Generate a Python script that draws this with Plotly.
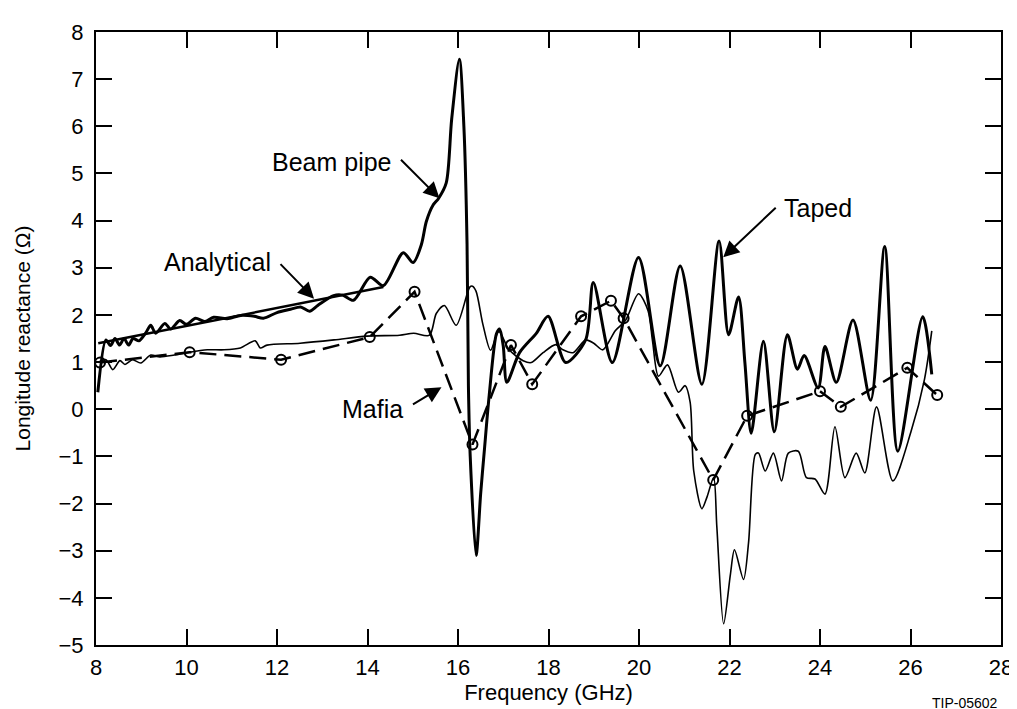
import plotly.graph_objects as go

# ---- data ----
thick_x = [8.04, 8.22, 8.32, 8.42, 8.52, 8.62, 8.72, 8.82, 8.95, 9.1, 9.21, 9.32, 9.52, 9.65, 9.85,
           10.0, 10.2, 10.4, 10.6, 10.9, 11.2, 11.5, 11.7, 12.0, 12.3, 12.52, 12.72, 12.9, 13.25,
           13.45, 13.69, 14.06, 14.35, 14.79, 15.01, 15.19, 15.3, 15.45, 15.57, 15.74, 15.86, 16.03,
           16.13, 16.2, 16.23, 16.27, 16.40, 16.5, 16.58, 16.69, 16.85, 16.92, 17.0, 17.08, 17.36,
           17.73, 17.99, 18.38, 18.82, 18.99, 19.41, 19.99, 20.47, 20.91, 21.39, 21.77, 21.98, 22.20,
           22.34, 22.48, 22.75, 22.99, 23.28, 23.50, 23.65, 23.96, 24.11, 24.36, 24.73, 25.12, 25.43,
           25.72, 26.27, 26.47]
thick_y = [0.36, 1.47, 1.35, 1.5, 1.36, 1.5, 1.36, 1.5, 1.45, 1.62, 1.78, 1.61, 1.82, 1.7, 1.88,
           1.8, 1.93, 1.86, 1.95, 1.92, 1.99, 1.97, 1.93, 2.05, 2.12, 2.17, 2.08, 2.2, 2.41,
           2.42, 2.31, 2.8, 2.62, 3.32, 3.11, 3.49, 3.98, 4.33, 4.47, 4.8, 6.15, 7.42,
           6.0, 3.5, 0.5, -1.0, -3.1, -1.8, -0.9, 0.3, 1.6, 1.70, 1.34, 0.57, 1.2,
           1.61, 1.97, 0.99, 1.47, 2.69, 0.99, 3.22, 0.92, 3.04, 0.53, 3.57, 1.58, 2.38,
           0.99, -0.51, 1.44, -0.48, 1.58, 0.85, 1.14, 0.45, 1.33, 0.57, 1.89, 0.19, 3.45,
           -0.89, 1.96, 0.74]

thin_x = [8.04, 8.22, 8.37, 8.53, 8.64, 8.81, 8.99, 9.21, 9.41, 9.73, 10.07, 10.46, 10.83, 11.19,
          11.52, 11.63, 11.78, 12.51, 13.26, 13.98, 14.71, 15.02, 15.37, 15.52, 15.7, 15.96, 16.26,
          16.32, 16.4, 16.55, 16.72, 16.9, 17.13, 17.44, 17.62, 17.88, 18.16, 18.32, 18.54, 18.82,
          19.0, 19.2, 19.48, 19.7, 19.99, 20.2, 20.3, 20.43, 20.63, 20.87, 21.02, 21.13, 21.21,
          21.39, 21.50, 21.65, 21.72, 21.87, 22.02, 22.11, 22.31, 22.42, 22.57, 22.64, 22.79, 22.97,
          23.15, 23.30, 23.52, 23.70, 23.89, 24.11, 24.33, 24.55, 24.80, 24.99, 25.25, 25.61, 26.01,
          26.31, 26.47]
thin_y = [0.99, 1.05, 0.84, 1.03, 0.95, 1.05, 0.98, 1.15, 1.11, 1.15, 1.21, 1.26, 1.26, 1.3,
          1.45, 1.3, 1.36, 1.40, 1.47, 1.55, 1.57, 1.61, 1.57, 2.03, 2.2, 1.78, 2.59,
          2.61, 2.5, 1.8, 1.25, 1.65, 1.26, 1.03, 0.99, 1.2, 1.37, 1.26, 1.2, 1.47,
          1.4, 1.26, 1.67, 1.88, 2.45, 2.09, 1.44, 0.7, 0.94, 0.36, 0.5, 0.15, -1.31,
          -2.11, -1.87, -1.45, -2.49, -4.55, -3.5, -2.98, -3.61, -2.84, -0.96, -0.93, -1.31, -0.93,
          -1.52, -0.93, -0.89, -1.45, -1.48, -1.80, -0.37, -1.45, -0.93, -1.35, 0.05, -1.52, -0.48,
          0.64, 1.66]

analytical_x = [8.05, 14.35]
analytical_y = [1.40, 2.59]

mafia_x = [8.09, 10.07, 12.09, 14.05, 15.04, 16.32, 17.17, 17.64, 18.72, 19.38, 19.66,
           21.64, 22.39, 24.0, 24.46, 25.93, 26.59]
mafia_y = [0.99, 1.21, 1.05, 1.53, 2.49, -0.75, 1.36, 0.53, 1.97, 2.30, 1.93,
           -1.5, -0.14, 0.38, 0.05, 0.88, 0.30]

x_ticks = [8, 10, 12, 14, 16, 18, 20, 22, 24, 26, 28]
y_ticks = [-5, -4, -3, -2, -1, 0, 1, 2, 3, 4, 5, 6, 7, 8]

FONT = "Liberation Sans, Arial, Helvetica, sans-serif"

fig = go.Figure()
fig.add_trace(go.Scatter(x=thin_x, y=thin_y, mode="lines", name="Taped",
                         line=dict(color="black", width=1.6, shape="spline", smoothing=0.8)))
fig.add_trace(go.Scatter(x=thick_x, y=thick_y, mode="lines", name="Beam pipe",
                         line=dict(color="black", width=3, shape="spline", smoothing=0.8)))
fig.add_trace(go.Scatter(x=analytical_x, y=analytical_y, mode="lines", name="Analytical",
                         line=dict(color="black", width=2.5)))
fig.add_trace(go.Scatter(x=mafia_x, y=mafia_y, mode="lines+markers", name="Mafia",
                         line=dict(color="black", width=2.5, dash="17px,8px"),
                         marker=dict(symbol="circle-open", size=10, color="black",
                                     line=dict(width=2, color="black"))))

axis_common = dict(showline=True, linecolor="black", linewidth=2, mirror="ticks",
                   ticks="inside", ticklen=16, tickwidth=1.5, tickcolor="black",
                   showgrid=False, zeroline=False,
                   tickfont=dict(family=FONT, size=22, color="black"))

fig.update_xaxes(range=[8, 28], tickvals=x_ticks, ticklabelstandoff=2,
                 title=dict(text="Frequency (GHz)", font=dict(family=FONT, size=22, color="black"),
                            standoff=4),
                 **axis_common)
fig.update_yaxes(range=[-5, 8], tickvals=y_ticks, ticklabelstandoff=6,
                 title=dict(text="Longitude reactance (Ω)", font=dict(family=FONT, size=21, color="black"),
                            standoff=22),
                 **axis_common)

W, H = 1017, 709
L, R, T, B = 88, 20, 14, 72
pw, ph = W - L - R, H - T - B


def px2data(px, py):
    return 8 + (px - L) / pw * 20, 8 - (py - T) / ph * 13


def px2paper(px, py):
    return (px - L) / pw, (H - B - py) / ph


annots = []
# labels
for txt, (cx, cy) in [("Beam pipe", (325, 146)), ("Analytical", (210, 248)),
                      ("Taped", (813, 193)), ("Mafia", (366, 397))]:
    xp, yp = px2paper(cx, cy)
    annots.append(dict(text=txt, x=xp, y=yp, xref="paper", yref="paper", showarrow=False,
                       xanchor="center", yanchor="middle",
                       font=dict(family=FONT, size=25, color="black")))
# arrows (tip, tail)
for (tip, tail) in [((433, 183), (393, 143)), ((307, 285), (272, 249)),
                    ((718, 243), (772, 192)), ((435, 375), (405, 393))]:
    xd, yd = px2data(*tip)
    annots.append(dict(text="", x=xd, y=yd, xref="x", yref="y", showarrow=True,
                       ax=tail[0] - tip[0], ay=tail[1] - tip[1],
                       arrowhead=2, arrowsize=1.6, arrowwidth=2, arrowcolor="black"))
# code at bottom right
xp, yp = px2paper(996, 706)
annots.append(dict(text="TIP-05602", x=xp, y=yp, xref="paper", yref="paper", showarrow=False,
                   xanchor="right", yanchor="bottom", font=dict(family=FONT, size=14, color="black")))

fig.update_layout(width=W, height=H, margin=dict(l=L, r=R, t=T, b=B),
                  paper_bgcolor="white", plot_bgcolor="white", showlegend=False,
                  annotations=annots)

fig.write_html("out.html")
